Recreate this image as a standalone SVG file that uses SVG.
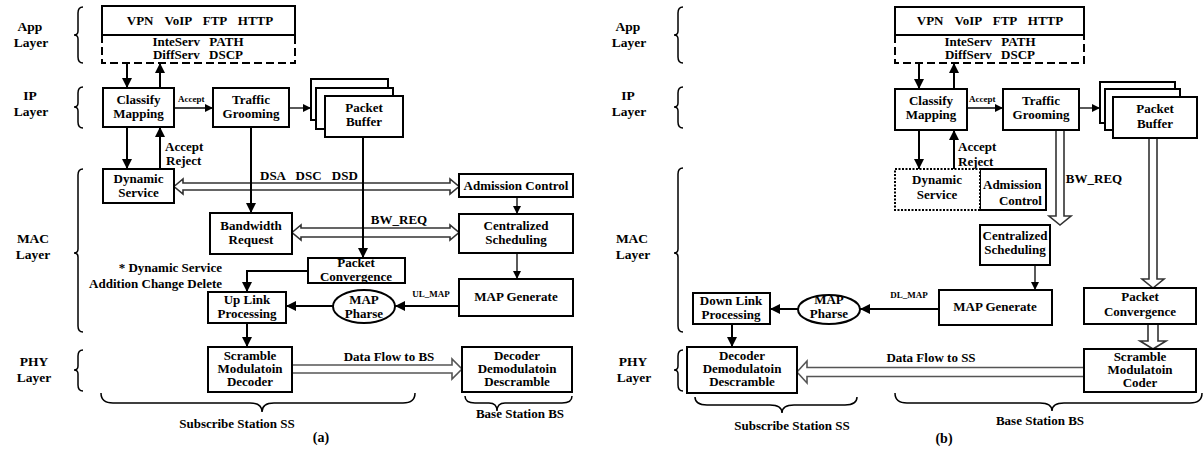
<svg xmlns="http://www.w3.org/2000/svg" width="1203" height="452" viewBox="0 0 1203 452">
<style>
.bx{fill:#fff;stroke:#000;stroke-width:2}
.dot{fill:#fff;stroke:#000;stroke-width:2;stroke-dasharray:2 1.5}
.t{font-family:"Liberation Serif","Times New Roman",serif;font-weight:bold;font-size:13px;text-anchor:middle;fill:#000}
.lay{font-size:13.5px}
.sm{font-size:9px}
.ln{fill:none;stroke:#000;stroke-width:2}
.thin{fill:none;stroke:#000;stroke-width:1.3}
.hol{fill:#fff;stroke:#333;stroke-width:1.6;stroke-linejoin:miter}
.br{fill:none;stroke:#000;stroke-width:1.5}
</style>
<defs>
<marker id="ah" markerUnits="userSpaceOnUse" markerWidth="10" markerHeight="10" refX="10" refY="5" orient="auto"><path d="M0,0 L10,5 L0,10 Z" fill="#000"/></marker>
<marker id="ahs" markerUnits="userSpaceOnUse" markerWidth="8" markerHeight="8" refX="8" refY="4" orient="auto"><path d="M0,0 L8,4 L0,8 Z" fill="#000"/></marker>
</defs>
<rect width="1203" height="452" fill="#fff"/>

<!-- ===== (a) layer labels and braces ===== -->
<g id="a-labels">
<text class="t lay" x="30" y="31">App</text><text class="t lay" x="31" y="47">Layer</text>
<text class="t lay" x="30" y="100">IP</text><text class="t lay" x="31" y="116">Layer</text>
<text class="t lay" x="33" y="243">MAC</text><text class="t lay" x="33" y="259">Layer</text>
<text class="t lay" x="34" y="366">PHY</text><text class="t lay" x="34" y="382">Layer</text>
<path class="br" d="M83,7 Q78,7 78,13 L78,31 Q78,35 74,35 Q78,35 78,39 L78,57 Q78,63 83,63"/>
<path class="br" d="M83,87 Q78,87 78,93 L78,103 Q78,107 74,107 Q78,107 78,111 L78,122 Q78,128 83,128"/>
<path class="br" d="M83,169 Q78,169 78,175 L78,249 Q78,253 74,253 Q78,253 78,257 L78,326 Q78,332 83,332"/>
<path class="br" d="M83,350 Q78,350 78,356 L78,366 Q78,370 74,370 Q78,370 78,374 L78,385 Q78,391 83,391"/>
<path class="br" d="M101,393 Q101,403 113,403 L250,403 Q262,403 262,412 Q262,403 274,403 L403,403 Q415,403 415,393"/>
<path class="br" d="M465,396 Q465,403 475,403 L489,403 Q497,403 497,411 Q497,403 505,403 L562,403 Q572,403 572,396"/>
<text class="t" x="237" y="428">Subscribe Station  SS</text>
<text class="t" x="520" y="418">Base Station  BS</text>
<text class="t" x="321" y="442" style="font-size:14px">(a)</text>
<text class="t" x="222" y="272" style="text-anchor:end">*  Dynamic Service</text>
<text class="t" x="222" y="288" style="text-anchor:end">Addition  Change  Delete</text>
</g>

<!-- ===== (a) connectors ===== -->
<g id="a-connectors">
<polygon class="hol" points="174,186.5 183,179 183,183 450,183 450,179 459,186.5 450,194 450,190 183,190 183,194"/>
<polygon class="hol" points="292,232.5 301,225 301,228 450,228 450,225 459,232.5 450,240 450,237 301,237 301,240"/>
<polygon class="hol" style="stroke:#555" points="292,365 452,365 452,359 462,369 452,379 452,373 292,373"/>
<line class="ln" x1="127" y1="63" x2="127" y2="88" marker-end="url(#ah)"/>
<line class="ln" x1="160" y1="88" x2="160" y2="63" marker-end="url(#ah)"/>
<line class="thin" x1="174" y1="108" x2="213" y2="108" marker-end="url(#ahs)"/>
<line class="thin" x1="289" y1="108" x2="311" y2="108" marker-end="url(#ahs)"/>
<line class="ln" x1="127" y1="127" x2="127" y2="169" marker-end="url(#ah)"/>
<line class="ln" x1="160" y1="169" x2="160" y2="127" marker-end="url(#ah)"/>
<line class="ln" x1="251" y1="127" x2="251" y2="213" marker-end="url(#ah)"/>
<line class="ln" x1="363" y1="137" x2="363" y2="258" marker-end="url(#ah)"/>
<line class="thin" x1="517" y1="197" x2="517" y2="214" marker-end="url(#ahs)"/>
<line class="thin" x1="517" y1="253" x2="517" y2="279" marker-end="url(#ahs)"/>
<line class="ln" x1="459" y1="306" x2="395" y2="306" marker-end="url(#ah)"/>
<line class="ln" x1="333" y1="306" x2="286" y2="306" marker-end="url(#ah)"/>
<polyline class="ln" points="308,271 247,271 247,292" marker-end="url(#ah)"/>
<line class="ln" x1="247" y1="323" x2="247" y2="347" marker-end="url(#ah)"/>
<text class="t sm" x="178" y="102" style="text-anchor:start">Accept</text>
<text class="t" x="165" y="151" style="text-anchor:start">Accept</text>
<text class="t" x="166" y="165" style="text-anchor:start">Reject</text>
<text class="t" x="260" y="180" style="text-anchor:start" word-spacing="7">DSA DSC DSD</text>
<text class="t" x="399" y="224">BW_REQ</text>
<text class="t sm" x="431" y="297">UL_MAP</text>
<text class="t" x="389" y="361">Data Flow to BS</text>
</g>

<!-- ===== (a) nodes ===== -->
<g id="a-app"><rect class="bx" x="102" y="6" width="193" height="29"/><text class="t" x="200" y="25" word-spacing="8">VPN VoIP FTP HTTP</text></g>
<g id="a-qos"><path d="M102,35 V63 H295 V35" fill="none" stroke="#000" stroke-width="2" stroke-dasharray="8 4"/><text class="t" x="198" y="46" word-spacing="6">InteServ PATH</text><text class="t" x="198" y="59" word-spacing="6">DiffServ DSCP</text></g>
<g id="a-classify"><rect class="bx" x="103" y="88" width="71" height="39"/><text class="t" x="138.5" y="104">Classify</text><text class="t" x="138.5" y="118">Mapping</text></g>
<g id="a-traffic"><rect class="bx" x="213" y="88" width="76" height="39"/><text class="t" x="251" y="104">Traffic</text><text class="t" x="251" y="118">Grooming</text></g>
<g id="a-buffer"><rect class="bx" x="311" y="79" width="77" height="41"/><rect class="bx" x="316" y="88" width="77" height="41"/><rect class="bx" x="325" y="96" width="78" height="41"/><text class="t" x="364" y="112">Packet</text><text class="t" x="364" y="126">Buffer</text></g>
<g id="a-dynamic"><rect class="bx" x="103" y="169" width="71" height="34"/><text class="t" x="138.5" y="183">Dynamic</text><text class="t" x="138.5" y="197">Service</text></g>
<g id="a-admission"><rect class="bx" x="459" y="174" width="114" height="23"/><text class="t" x="516" y="190">Admission Control</text></g>
<g id="a-bandwidth"><rect class="bx" x="210" y="213" width="82" height="41"/><text class="t" x="251" y="230">Bandwidth</text><text class="t" x="251" y="244">Request</text></g>
<g id="a-central"><rect class="bx" x="459" y="214" width="114" height="39"/><text class="t" x="516" y="230">Centralized</text><text class="t" x="516" y="244">Scheduling</text></g>
<g id="a-convergence"><rect class="bx" x="308" y="258" width="97" height="25"/><text class="t" x="356" y="267">Packet</text><text class="t" x="356" y="281">Convergence</text></g>
<g id="a-mapgen"><rect class="bx" x="459" y="279" width="114" height="37"/><text class="t" x="516" y="301">MAP Generate</text></g>
<g id="a-mapphar"><ellipse class="bx" cx="364" cy="306.5" rx="31" ry="16.5"/><text class="t" x="364" y="304">MAP</text><text class="t" x="364" y="318">Pharse</text></g>
<g id="a-uplink"><rect class="bx" x="208" y="292" width="78" height="31"/><text class="t" x="247" y="304">Up Link</text><text class="t" x="247" y="318">Processing</text></g>
<g id="a-scramble"><rect class="bx" x="208" y="347" width="84" height="45"/><text class="t" x="250" y="360">Scramble</text><text class="t" x="250" y="373">Modulatoin</text><text class="t" x="250" y="386">Decoder</text></g>
<g id="a-decoder"><rect class="bx" x="462" y="347" width="110" height="45"/><text class="t" x="517" y="360">Decoder</text><text class="t" x="517" y="373">Demodulatoin</text><text class="t" x="517" y="386">Descramble</text></g>

<!-- ===== (b) layer labels and braces ===== -->
<g id="b-labels">
<text class="t lay" x="628" y="31">App</text><text class="t lay" x="629" y="47">Layer</text>
<text class="t lay" x="628" y="100">IP</text><text class="t lay" x="629" y="116">Layer</text>
<text class="t lay" x="632" y="243">MAC</text><text class="t lay" x="633" y="259">Layer</text>
<text class="t lay" x="633" y="366">PHY</text><text class="t lay" x="634" y="382">Layer</text>
<path class="br" d="M683,7 Q678,7 678,13 L678,31 Q678,35 674,35 Q678,35 678,39 L678,57 Q678,63 683,63"/>
<path class="br" d="M683,87 Q678,87 678,93 L678,103 Q678,107 674,107 Q678,107 678,111 L678,122 Q678,128 683,128"/>
<path class="br" d="M683,168 Q678,168 678,174 L678,249 Q678,253 674,253 Q678,253 678,257 L678,326 Q678,332 683,332"/>
<path class="br" d="M683,350 Q678,350 678,356 L678,366 Q678,370 674,370 Q678,370 678,374 L678,385 Q678,391 683,391"/>
<path class="br" d="M695,397 Q695,405 707,405 L770,405 Q782,405 782,413 Q782,405 794,405 L845,405 Q857,405 857,397"/>
<path class="br" d="M895,393 Q895,403 907,403 L1040,403 Q1052,403 1052,411 Q1052,403 1064,403 L1190,403 Q1202,403 1202,393"/>
<text class="t" x="792" y="430">Subscribe Station  SS</text>
<text class="t" x="1040" y="425">Base Station  BS</text>
<text class="t" x="944" y="443" style="font-size:14px">(b)</text>
</g>

<!-- ===== (b) connectors ===== -->
<g id="b-connectors">
<polygon class="hol" points="1056,130 1064,130 1064,216 1071,216 1060,225 1049,216 1056,216"/>
<polygon class="hol" points="1149,138 1157,138 1157,279 1164,279 1153,288 1142,279 1149,279"/>
<polygon class="hol" points="1148,324 1158,324 1158,341 1166,341 1153,349 1140,341 1148,341"/>
<polygon class="hol" style="stroke:#555" points="1084,367.5 807,367.5 807,361 797,372 807,383 807,376.5 1084,376.5"/>
<line class="ln" x1="919" y1="63" x2="919" y2="89" marker-end="url(#ah)"/>
<line class="ln" x1="954" y1="89" x2="954" y2="63" marker-end="url(#ah)"/>
<line class="thin" x1="967" y1="108" x2="1003" y2="108" marker-end="url(#ahs)"/>
<line class="thin" x1="1079" y1="108" x2="1100" y2="108" marker-end="url(#ahs)"/>
<line class="ln" x1="919" y1="130" x2="919" y2="169" marker-end="url(#ah)"/>
<line class="ln" x1="954" y1="169" x2="954" y2="130" marker-end="url(#ah)"/>
<line class="thin" x1="1035" y1="265" x2="1035" y2="290" marker-end="url(#ahs)"/>
<line class="ln" x1="939" y1="309" x2="860" y2="309" marker-end="url(#ah)"/>
<line class="ln" x1="798" y1="309" x2="770" y2="309" marker-end="url(#ah)"/>
<line class="ln" x1="732" y1="324" x2="732" y2="347" marker-end="url(#ah)"/>
<text class="t sm" x="969" y="102" style="text-anchor:start">Accept</text>
<text class="t" x="958" y="151" style="text-anchor:start">Accept</text>
<text class="t" x="958" y="166" style="text-anchor:start">Reject</text>
<text class="t" x="1094" y="183">BW_REQ</text>
<text class="t sm" x="909" y="298">DL_MAP</text>
<text class="t" x="931" y="362">Data Flow to SS</text>
</g>

<!-- ===== (b) nodes ===== -->
<g id="b-app"><rect class="bx" x="895" y="7" width="189" height="28"/><text class="t" x="990" y="25" word-spacing="8">VPN VoIP FTP HTTP</text></g>
<g id="b-qos"><path d="M895,35 V63 H1084 V35" fill="none" stroke="#000" stroke-width="2" stroke-dasharray="8 4"/><text class="t" x="990" y="46" word-spacing="6">InteServ PATH</text><text class="t" x="990" y="59" word-spacing="6">DiffServ DSCP</text></g>
<g id="b-classify"><rect class="bx" x="895" y="89" width="72" height="41"/><text class="t" x="931" y="105">Classify</text><text class="t" x="931" y="119">Mapping</text></g>
<g id="b-traffic"><rect class="bx" x="1003" y="89" width="76" height="41"/><text class="t" x="1041" y="105">Traffic</text><text class="t" x="1041" y="119">Grooming</text></g>
<g id="b-buffer"><rect class="bx" x="1100" y="82" width="75" height="41"/><rect class="bx" x="1105" y="89" width="75" height="41"/><rect class="bx" x="1113" y="97" width="84" height="41"/><text class="t" x="1155" y="113">Packet</text><text class="t" x="1155" y="128">Buffer</text></g>
<g id="b-admission"><rect class="bx" x="980" y="169" width="66" height="41"/><text class="t" x="983" y="189" style="text-anchor:start">Admission</text><text class="t" x="1042" y="205" style="text-anchor:end">Control</text></g>
<g id="b-dynamic"><rect class="dot" x="895" y="169" width="85" height="41"/><text class="t" x="937" y="184">Dynamic</text><text class="t" x="937" y="199">Service</text></g>
<g id="b-central"><rect class="bx" x="980" y="225" width="70" height="40"/><text class="t" x="1015" y="240">Centralized</text><text class="t" x="1015" y="254">Scheduling</text></g>
<g id="b-mapgen"><rect class="bx" x="939" y="290" width="113" height="35"/><text class="t" x="995" y="311">MAP Generate</text></g>
<g id="b-mapphar"><ellipse class="bx" cx="829" cy="309.5" rx="31" ry="14.5"/><text class="t" x="829" y="304">MAP</text><text class="t" x="829" y="318">Pharse</text></g>
<g id="b-downlink"><rect class="bx" x="693" y="293" width="77" height="31"/><text class="t" x="731" y="305">Down Link</text><text class="t" x="731" y="319">Processing</text></g>
<g id="b-convergence"><rect class="bx" x="1084" y="288" width="112" height="36"/><text class="t" x="1140" y="301">Packet</text><text class="t" x="1140" y="316">Convergence</text></g>
<g id="b-decoder"><rect class="bx" x="687" y="347" width="110" height="46"/><text class="t" x="742" y="360">Decoder</text><text class="t" x="742" y="373">Demodulatoin</text><text class="t" x="742" y="386">Descramble</text></g>
<g id="b-scramble"><rect class="bx" x="1084" y="349" width="112" height="43"/><text class="t" x="1140" y="361">Scramble</text><text class="t" x="1140" y="374">Modulatoin</text><text class="t" x="1140" y="387">Coder</text></g>
</svg>
